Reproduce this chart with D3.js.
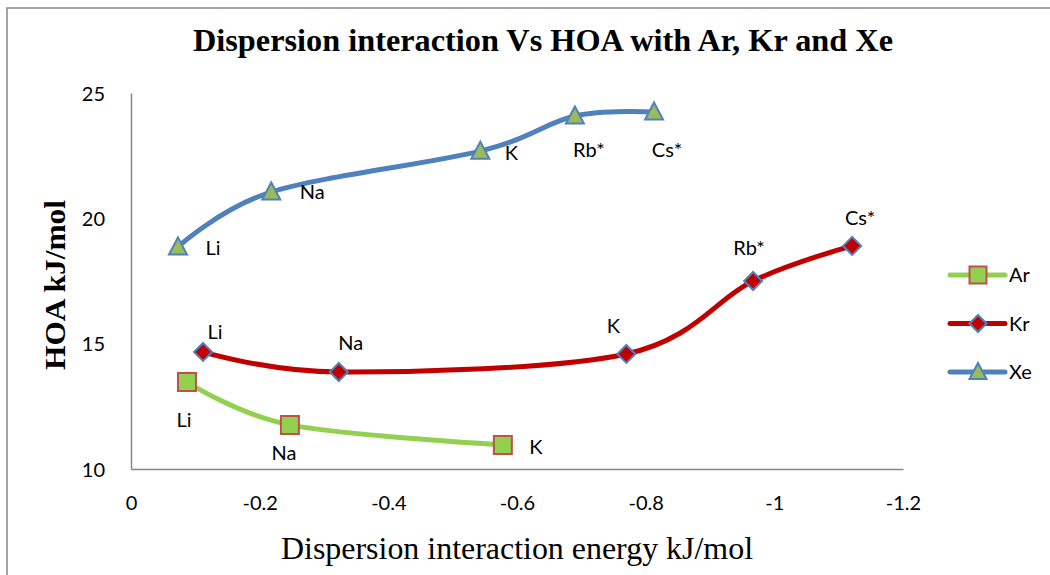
<!DOCTYPE html>
<html>
<head>
<meta charset="utf-8">
<script src="https://cdn.jsdelivr.net/npm/d3@7"></script>
<style>
  body { margin: 0; background: #fff; }
  svg { display: block; }
  .tick text { font-family: Lato, "Open Sans", sans-serif; font-size: 20px; fill: #000; }
  .axis path { stroke: #868686; stroke-width: 1.5; }
</style>
</head>
<body>
<div id="chart-area"></div>
<script>
// chart size
let width = 1050,
	height = 575;

// data (x = dispersion energy, y = HOA)
let metals = ["Li", "Na", "K", "Rb*", "Cs*"];
let seriesNames = ["Ar", "Kr", "Xe"];

let arX = [-0.087, -0.247, -0.578];
let arY = [13.47, 11.76, 10.96];

let krX = [-0.112, -0.323, -0.770, -0.967, -1.121];
let krY = [14.67, 13.87, 14.59, 17.5, 18.9];

let xeX = [-0.073, -0.218, -0.543, -0.690, -0.813];
let xeY = [18.86, 21.05, 22.68, 24.08, 24.24];

let xTicks = [0, -0.2, -0.4, -0.6, -0.8, -1, -1.2];
let yTicks = [10, 15, 20, 25];

// build the series table
let xs = [arX, krX, xeX], ys = [arY, krY, xeY];
let series = seriesNames.map((name, i) => ({
	name: name,
	points: xs[i].map((x, j) => ({ x: x, y: ys[i][j], label: metals[j] }))
}));

// styles
let style = {
	Ar: { line: "#92D050", fill: "#92D050", stroke: "#C0504D", shape: "square" },
	Kr: { line: "#C00000", fill: "#C00000", stroke: "#4F81BD", shape: "diamond" },
	Xe: { line: "#4F81BD", fill: "#9BBB59", stroke: "#4F81BD", shape: "triangle" }
};

// label offsets (dx, dy of text centre from marker)
let labelOffsets = {
	Ar: [[-3, 38], [-6, 28], [33, 2]],
	Kr: [[12, -20], [12, -29], [-13, -28], [-4, -33], [8, -28]],
	Xe: [[35, 1], [41, 0], [31, 2], [14, 34], [13, 38]]
};

drawChart(series);

function markerPath(shape, s) {
	if (shape === "square") return `M${-s/2},${-s/2}h${s}v${s}h${-s}Z`;
	if (shape === "diamond") return `M0,${-s/2}L${s/2},0L0,${s/2}L${-s/2},0Z`;
	let h = s * 0.95;
	return `M0,${-h/2 - 1}L${s/2},${h/2 - 1}L${-s/2},${h/2 - 1}Z`;
}

function drawChart(series) {
	let svg = d3.select("#chart-area").append("svg").attr("width", width).attr("height", height);

	// outer frame (only top/left visible in the reference)
	svg.append("path")
		.attr("d", "M7,575V8H1050")
		.attr("fill", "none")
		.attr("stroke", "#868686")
		.attr("stroke-width", 1.5);

	let xScale = d3.scaleLinear().domain([0, -1.2]).range([131, 903]);
	let yScale = d3.scaleLinear().domain([10, 25]).range([469, 93]);

	let xAxis = d3.axisBottom(xScale).tickValues(xTicks).tickSize(0).tickPadding(27)
		.tickFormat(d => d3.format("")(d).replace("−", "-"));
	let yAxis = d3.axisLeft(yScale).tickValues(yTicks).tickSize(0).tickPadding(26);

	svg.append("g")
		.attr("class", "axis x-axis")
		.attr("transform", "translate(0,469)")
		.call(xAxis);

	svg.append("g")
		.attr("class", "axis y-axis")
		.attr("transform", "translate(131,0)")
		.call(yAxis);

	svg.selectAll(".y-axis .tick text").attr("dy", "0.36em");

	// lines
	let line = d3.line()
		.x(d => xScale(d.x))
		.y(d => yScale(d.y))
		.curve(d3.curveCardinal.tension(0));

	series.forEach(s => {
		let st = style[s.name];
		svg.append("path")
			.datum(s.points)
			.attr("d", line)
			.attr("fill", "none")
			.attr("stroke", st.line)
			.attr("stroke-width", 5)
			.attr("stroke-linecap", "round");
	});

	// markers + labels
	series.forEach(s => {
		let st = style[s.name];
		svg.selectAll(".m-" + s.name)
			.data(s.points)
			.enter()
			.append("path")
			.attr("transform", d => `translate(${xScale(d.x)},${yScale(d.y)})`)
			.attr("d", markerPath(st.shape, 18))
			.attr("fill", st.fill)
			.attr("stroke", st.stroke)
			.attr("stroke-width", 2);

		svg.selectAll(".l-" + s.name)
			.data(s.points)
			.enter()
			.append("text")
			.attr("x", (d, i) => xScale(d.x) + labelOffsets[s.name][i][0])
			.attr("y", (d, i) => yScale(d.y) + labelOffsets[s.name][i][1])
			.attr("dy", "0.35em")
			.attr("text-anchor", "middle")
			.style("font-family", "Lato, 'Open Sans', sans-serif")
			.style("font-size", "20px")
			.text(d => d.label);
	});

	// legend
	let legend = svg.append("g").attr("transform", "translate(950,275)");
	series.forEach((s, i) => {
		let st = style[s.name];
		let g = legend.append("g").attr("transform", `translate(0,${i * 48.5})`);
		g.append("line")
			.attr("x1", 0).attr("x2", 55)
			.attr("stroke", st.line)
			.attr("stroke-width", 5)
			.attr("stroke-linecap", "round");
		g.append("path")
			.attr("transform", "translate(28,0)")
			.attr("d", markerPath(st.shape, 17))
			.attr("fill", st.fill)
			.attr("stroke", st.stroke)
			.attr("stroke-width", 2);
		g.append("text")
			.attr("x", 59)
			.attr("dy", "0.35em")
			.style("font-family", "Lato, 'Open Sans', sans-serif")
			.style("font-size", "20px")
			.text(s.name);
	});

	// titles
	svg.append("text")
		.attr("x", 543)
		.attr("y", 51)
		.attr("text-anchor", "middle")
		.attr("textLength", 700)
		.attr("lengthAdjust", "spacingAndGlyphs")
		.style("font-family", "'Liberation Serif', 'Times New Roman', serif")
		.style("font-weight", "bold")
		.style("font-size", "31px")
		.text("Dispersion interaction Vs HOA with Ar, Kr and Xe");

	svg.append("text")
		.attr("x", 517)
		.attr("y", 559)
		.attr("text-anchor", "middle")
		.attr("textLength", 472)
		.attr("lengthAdjust", "spacingAndGlyphs")
		.style("font-family", "'Liberation Serif', 'Times New Roman', serif")
		.style("font-size", "31px")
		.text("Dispersion interaction energy kJ/mol");

	svg.append("text")
		.attr("transform", "translate(65,285) rotate(-90)")
		.attr("text-anchor", "middle")
		.attr("textLength", 170)
		.attr("lengthAdjust", "spacingAndGlyphs")
		.style("font-family", "'Liberation Serif', 'Times New Roman', serif")
		.style("font-weight", "bold")
		.style("font-size", "29px")
		.text("HOA kJ/mol");
}
</script>
</body>
</html>
